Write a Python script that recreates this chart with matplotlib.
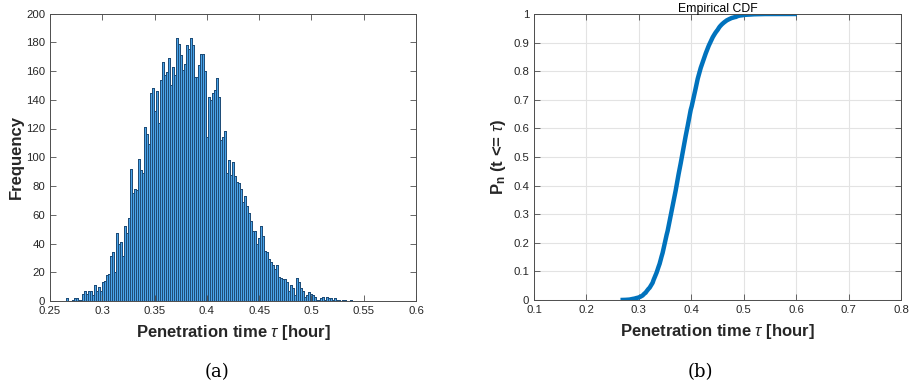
#!/usr/bin/env python3
# -*- coding: utf-8 -*-

import numpy as np
import matplotlib
matplotlib.use('Agg')
import matplotlib.pyplot as plt

# histogram of penetration time, counts
bin_start = 0.265
bin_width = 0.0019126
main_counts = [2, 0, 0, 1, 2, 2, 1, 1, 5, 7, 5, 7, 7, 4, 11, 7, 10, 7, 13, 14,
               18, 19, 31, 34, 20,
               47, 40, 41, 31, 52, 47, 58, 92, 75, 78, 77, 99, 91, 89, 121,
               116, 109, 145, 148, 132, 146, 124, 154, 166, 157,
               159, 169, 150, 163, 157, 183, 179, 171, 161, 165, 178, 175, 183,
               178, 156, 156, 164, 172, 172, 160, 114, 142, 140, 145,
               147, 155, 142, 112, 114, 118, 89, 98, 88, 97, 87, 83, 82, 78,
               69, 73, 66, 61, 56, 49, 49, 40, 44, 52, 45, 35, 34, 29, 27, 25,
               22, 25, 17, 16, 15, 15, 13, 7, 11, 9, 4, 16, 13, 9, 7,
               3, 4, 6, 5, 4, 3, 1, 1, 2, 3, 1, 3, 2, 2, 1, 2, 1, 1, 0, 1, 1,
               0, 0, 1]
tail_counts = [0] * 32 + [1]   # single sample sitting at 0.6

hist_xticks = [0.25, 0.3, 0.35, 0.4, 0.45, 0.5, 0.55, 0.6]
hist_yticks = list(range(0, 201, 20))
cdf_xticks = [0.1, 0.2, 0.3, 0.4, 0.5, 0.6, 0.7, 0.8]
cdf_yticks = [0, 0.1, 0.2, 0.3, 0.4, 0.5, 0.6, 0.7, 0.8, 0.9, 1]

W, H = 913, 388
AX_COL = '#4d4d4d'
TXT_COL = '#262626'


def style_axes(ax):
    ax.tick_params(direction='in', top=True, right=True, length=4, width=0.6,
                   colors=AX_COL, labelcolor=TXT_COL, labelsize=8.2)
    for s in ax.spines.values():
        s.set_color(AX_COL)
        s.set_linewidth(0.7)


def fmt(v):
    return ('%g' % v)


def main():
    plt.rcParams['font.family'] = ['Liberation Sans', 'DejaVu Sans']
    plt.rcParams['mathtext.fontset'] = 'custom'
    plt.rcParams['mathtext.rm'] = 'Liberation Sans'
    plt.rcParams['mathtext.it'] = 'Liberation Sans:italic'
    plt.rcParams['mathtext.bf'] = 'Liberation Sans:bold'

    counts = np.array(main_counts + tail_counts, dtype=float)
    edges = bin_start + bin_width * np.arange(len(counts) + 1)

    fig = plt.figure(figsize=(W / 100, H / 100), dpi=100)

    # (a) histogram
    ax1 = fig.add_axes([50 / W, 1 - 301 / H, 366 / W, 287.5 / H])
    ax1.bar(edges[:-1], counts, width=bin_width, align='edge',
            color='#4aa4ea', edgecolor='#1f4d78', linewidth=0.6,
            antialiased=False)
    ax1.set_xlim(0.25, 0.6)
    ax1.set_ylim(0, 200)
    ax1.set_xticks(hist_xticks)
    ax1.set_xticklabels([fmt(v) for v in hist_xticks])
    ax1.set_yticks(hist_yticks)
    style_axes(ax1)
    ax1.set_xlabel(r'Penetration time $\tau$ [hour]', fontsize=12,
                   fontweight='bold', color=TXT_COL, labelpad=5)
    ax1.set_ylabel('Frequency', fontsize=12, fontweight='bold', color=TXT_COL)
    ax1.yaxis.set_label_coords(-0.072, 0.5)

    # (b) empirical CDF built from the same counts
    cdf = np.concatenate([[0], np.cumsum(counts) / counts.sum()])
    ax2 = fig.add_axes([534 / W, 1 - 300 / H, 367 / W, 286 / H])
    ax2.grid(True, color='#e3e3e3', linewidth=0.8)
    ax2.set_axisbelow(True)
    ax2.plot(edges, cdf, color='#0072bd', linewidth=3.2,
             solid_capstyle='butt')
    ax2.set_xlim(0.1, 0.8)
    ax2.set_ylim(0, 1)
    ax2.set_xticks(cdf_xticks)
    ax2.set_xticklabels([fmt(v) for v in cdf_xticks])
    ax2.set_yticks(cdf_yticks)
    ax2.set_yticklabels([fmt(v) for v in cdf_yticks])
    style_axes(ax2)
    ax2.set_title('Empirical CDF', fontsize=8.8, color='#000000', pad=1.5)
    ax2.set_xlabel(r'Penetration time $\tau$ [hour]', fontsize=12,
                   fontweight='bold', color=TXT_COL, labelpad=5)
    ax2.set_ylabel(r'P$_{\mathbf{n}}$ (t <= $\tau$)', fontsize=12,
                   fontweight='bold', color=TXT_COL)
    ax2.yaxis.set_label_coords(-0.07, 0.5)

    fig.text(217 / W, 1 - 372 / H, '(a)', family='DejaVu Serif',
             fontsize=13, ha='center', va='center')
    fig.text(700 / W, 1 - 372 / H, '(b)', family='DejaVu Serif',
             fontsize=13, ha='center', va='center')

    fig.savefig('out.png', dpi=100)


if __name__ == "__main__":
    main()
